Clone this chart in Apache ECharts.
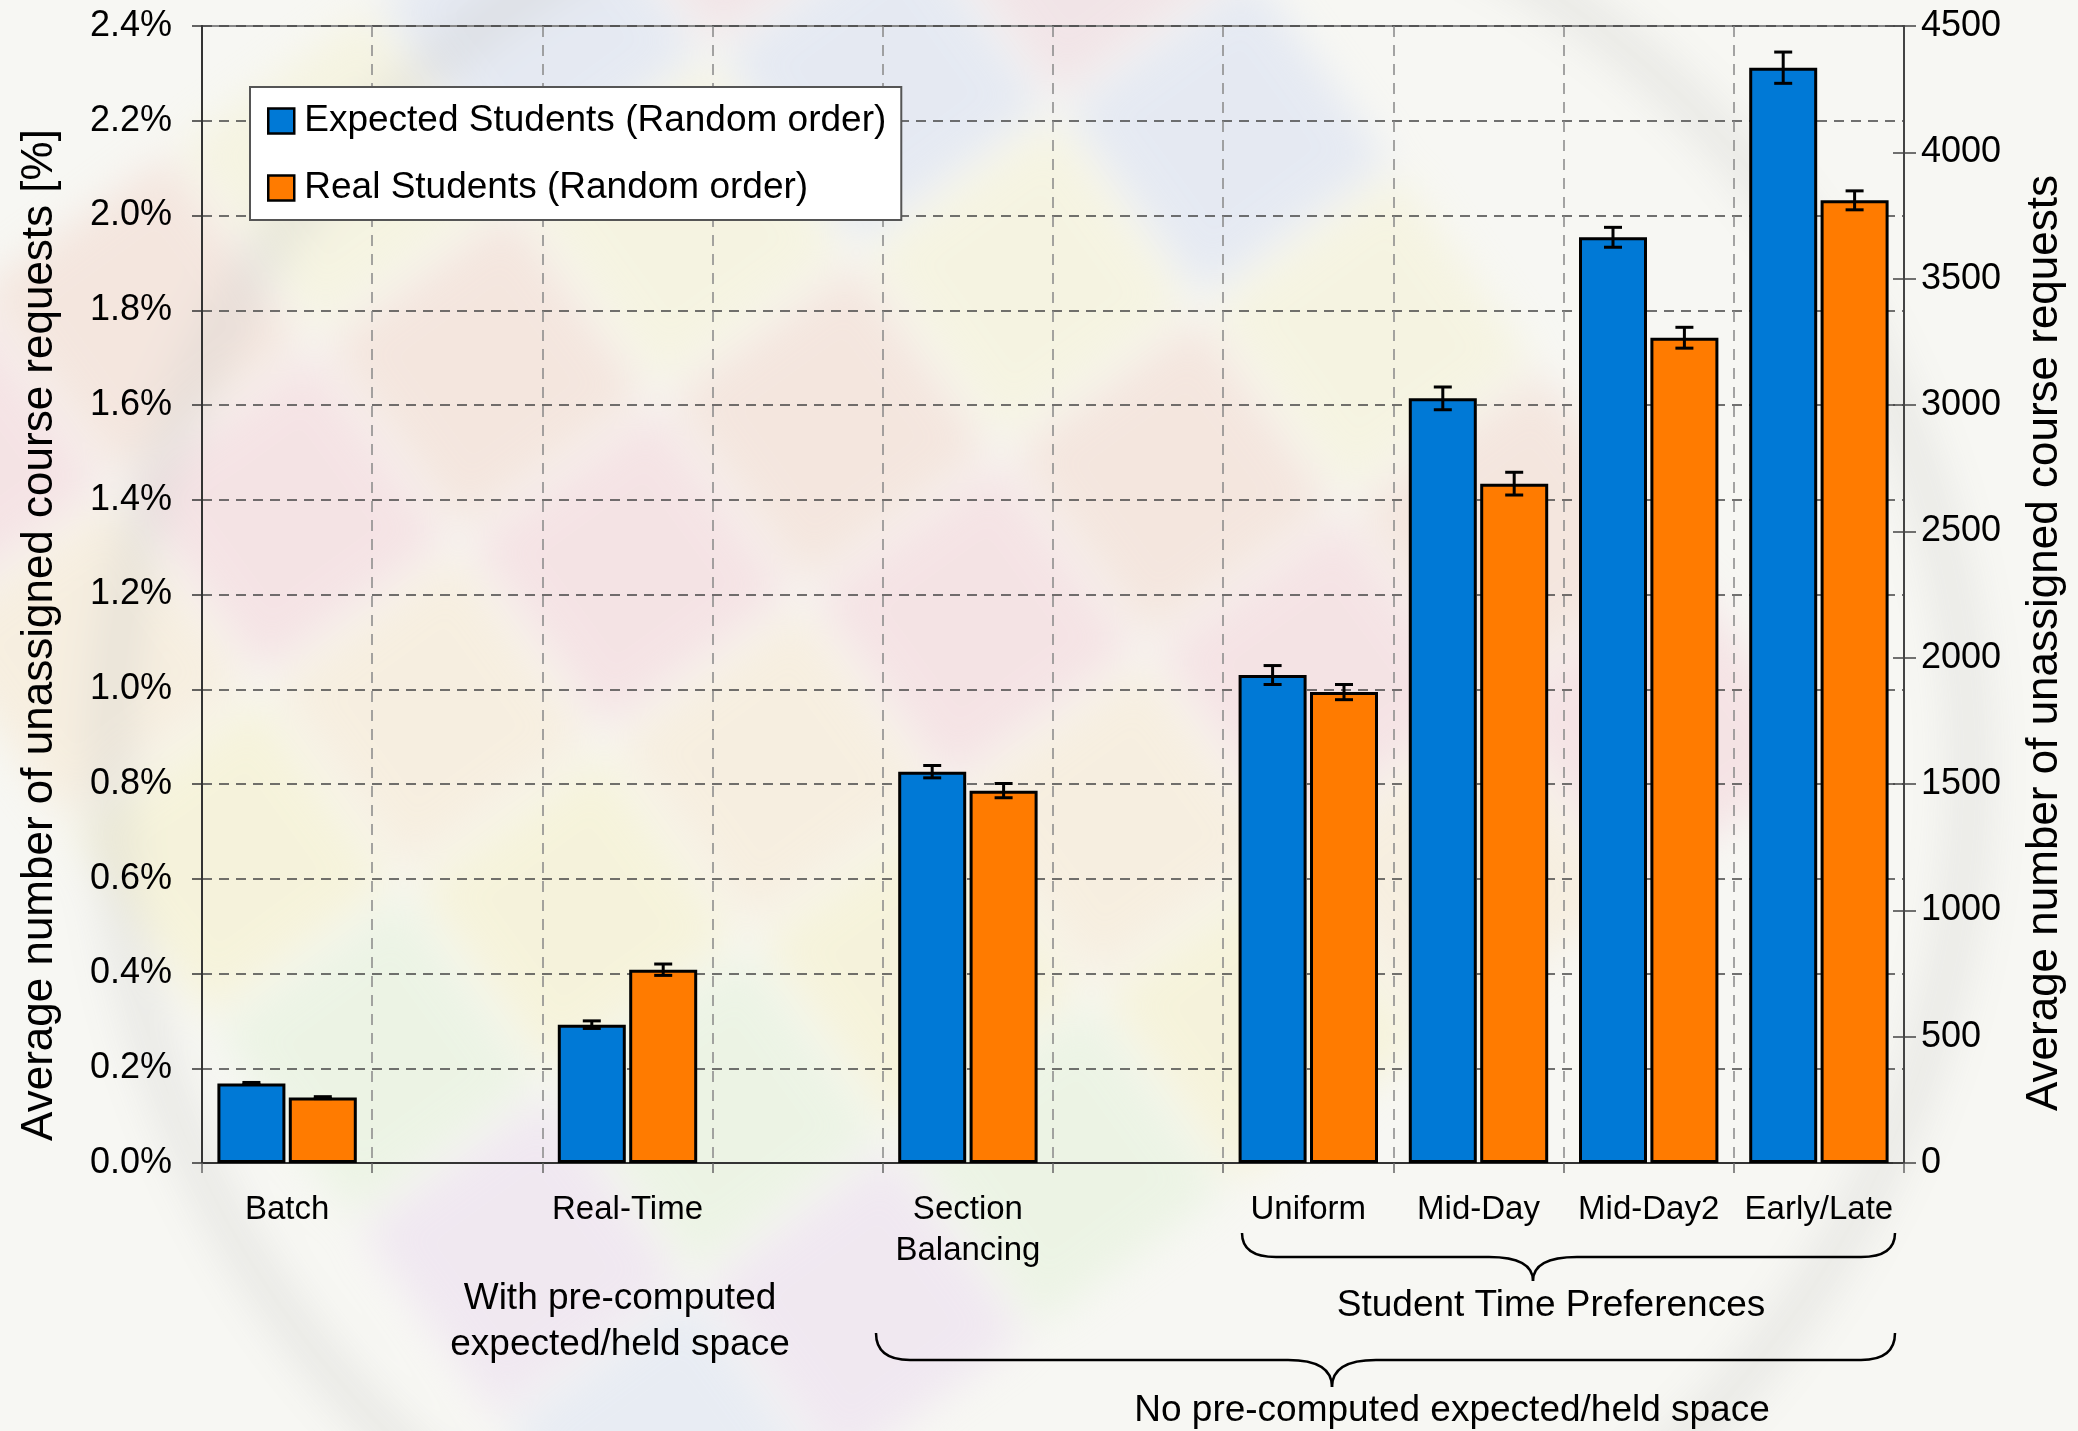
<!DOCTYPE html>
<html>
<head>
<meta charset="utf-8">
<script src="https://cdn.jsdelivr.net/npm/echarts@6/dist/echarts.min.js"></script>
<style>
  html, body { margin: 0; padding: 0; background: #f7f7f3; }
  #wrap { position: relative; width: 2078px; height: 1431px; overflow: hidden; }
  #bg { position: absolute; left: 0; top: 0; width: 2078px; height: 1431px; filter: blur(20px); opacity: 0.4; }
  #bg .tiles { position: absolute; left: 80px; top: -150px; width: 1500px; height: 1500px; transform: rotate(-36deg); }
  #bg .tiles div { position: absolute; }
  #bg .globe { position: absolute; left: 90px; top: -180px; width: 1900px; height: 1900px; border-radius: 50%;
               border: 40px solid rgba(140,140,140,0.35); box-sizing: border-box; }
  #chart { position: absolute; left: 0; top: 0; width: 2078px; height: 1431px; }
</style>
</head>
<body>
<div id="wrap">
  <div id="bg"><div class="tiles"></div><div class="globe"></div></div>
  <div id="chart"></div>
</div>
<script>
// ---- data ----
const categories = ['Batch', '', 'Real-Time', '', 'Section\nBalancing', '', 'Uniform', 'Mid-Day', 'Mid-Day2', 'Early/Late'];
const seriesNames = ['Expected Students (Random order)', 'Real Students (Random order)'];
const expectedPct = [0.168, null, 0.292, null, 0.826, null, 1.030, 1.614, 1.954, 2.312];
const realPct     = [0.138, null, 0.408, null, 0.786, null, 0.994, 1.434, 1.742, 2.032];
const expectedErr = [0.002, null, 0.008, null, 0.013, null, 0.020, 0.024, 0.021, 0.033];
const realErr     = [0.002, null, 0.012, null, 0.015, null, 0.016, 0.024, 0.022, 0.020];
const pctAxis   = [0, 2.4, 0.2];      // min, max, step (percent)
const countAxis = [0, 4500, 500];     // min, max, step (requests)
const leftTitle  = 'Average number of unassigned course requests [%]';
const rightTitle = 'Average number of unassigned course requests';
const noteWith   = 'With pre-computed\nexpected/held space';
const noteTime   = 'Student Time Preferences';
const noteNo     = 'No pre-computed expected/held space';

// ---- soft pastel backdrop ----
(function () {
  const pal = ['#f2c6d0', '#d6ebc4', '#f4edb8', '#cbd6f2', '#e6d2ee', '#f0cdc0', '#d3eddc', '#f6e2c4',
               '#e9c9d6', '#dcefd0', '#f3efc8', '#d2dcf4'];
  const host = document.querySelector('#bg .tiles');
  const size = 230, gap = 16;
  let k = 0;
  for (let r = 0; r < 6; r++) {
    for (let c = 0; c < 6; c++) {
      const d = document.createElement('div');
      d.style.left = (c * (size + gap)) + 'px';
      d.style.top = (r * (size + gap)) + 'px';
      d.style.width = size + 'px';
      d.style.height = size + 'px';
      d.style.background = pal[(k * 5 + r) % pal.length];
      host.appendChild(d);
      k++;
    }
  }
})();

// ---- chart ----
const FONT = "'Liberation Sans', Arial, Helvetica, sans-serif";
const BLUE = '#0079d6';
const ORANGE = '#ff7b00';
const BAR_W = 68;
const BAR_GAP = 0.05;
const BAR_SHIFT = (BAR_W + BAR_W * BAR_GAP) / 2;

function errorData(vals, errs) {
  const out = [];
  vals.forEach((v, i) => { if (v != null) out.push([i, v, errs[i]]); });
  return out;
}

function errorBars(sign) {
  return function (params, api) {
    const i = api.value(0), v = api.value(1), e = api.value(2);
    const hi = api.coord([i, v + e]);
    const lo = api.coord([i, v - e]);
    const x = hi[0] + sign * BAR_SHIFT;
    const cap = 9;
    const st = { stroke: '#000', lineWidth: 3 };
    return {
      type: 'group',
      children: [
        { type: 'line', shape: { x1: x, y1: hi[1], x2: x, y2: lo[1] }, style: st },
        { type: 'line', shape: { x1: x - cap, y1: hi[1], x2: x + cap, y2: hi[1] }, style: st },
        { type: 'line', shape: { x1: x - cap, y1: lo[1], x2: x + cap, y2: lo[1] }, style: st }
      ]
    };
  };
}

// curly brace opening downward, tip at xt
function brace(x0, x1, xt, yTop, yMid, yTip) {
  const r = 34, rt = 44;
  const st = { stroke: '#000', lineWidth: 2.5, fill: null };
  const q = (ax, ay, cx, cy, bx, by) => ({ type: 'bezierCurve', shape: { x1: ax, y1: ay, cpx1: cx, cpy1: cy, x2: bx, y2: by }, style: st });
  const l = (ax, ay, bx, by) => ({ type: 'line', shape: { x1: ax, y1: ay, x2: bx, y2: by }, style: st });
  return {
    type: 'group',
    children: [
      q(x0, yTop, x0, yMid, x0 + r, yMid),
      l(x0 + r, yMid, xt - rt, yMid),
      q(xt - rt, yMid, xt, yMid, xt, yTip),
      q(xt, yTip, xt, yMid, xt + rt, yMid),
      l(xt + rt, yMid, x1 - r, yMid),
      q(x1 - r, yMid, x1, yMid, x1, yTop)
    ]
  };
}

const chart = echarts.init(document.getElementById('chart'), null, { renderer: 'canvas' });

const axisNameStyle = { fontSize: 44, lineHeight: 50, color: '#000', fontFamily: FONT };

const option = {
  backgroundColor: 'transparent',
  animation: false,
  textStyle: { fontFamily: FONT },
  grid: { left: 202, right: 171, top: 26, bottom: 268, show: true, borderColor: '#888', borderWidth: 2, backgroundColor: 'transparent' },
  legend: {
    data: seriesNames,
    orient: 'vertical',
    left: 250, top: 87,
    backgroundColor: '#ffffff',
    borderColor: '#555', borderWidth: 2,
    padding: [13, 15, 11, 17],
    itemGap: 25, itemWidth: 26, itemHeight: 25,
    icon: 'rect',
    itemStyle: { borderColor: '#000', borderWidth: 2.5 },
    textStyle: { fontSize: 37, lineHeight: 42, color: '#000', fontFamily: FONT, padding: [0, 0, 0, 5] }
  },
  xAxis: {
    type: 'category',
    data: categories,
    boundaryGap: true,
    axisLine: { lineStyle: { color: '#333', width: 2 } },
    axisTick: { show: true, interval: 0, length: 10, lineStyle: { color: '#666', width: 1.5 } },
    splitLine: { show: true, interval: 0, lineStyle: { color: '#888', width: 1.5, type: [11, 8] } },
    axisLabel: { interval: 0, fontSize: 33, lineHeight: 41, margin: 26, color: '#000', fontFamily: FONT }
  },
  yAxis: [
    {
      type: 'value', position: 'left',
      min: pctAxis[0], max: pctAxis[1], interval: pctAxis[2],
      axisLine: { show: true, lineStyle: { color: '#333', width: 2 } },
      axisTick: { show: true, length: 10, lineStyle: { color: '#333', width: 1.5 } },
      axisLabel: { formatter: v => v.toFixed(1) + '%', fontSize: 36, margin: 30, color: '#000', fontFamily: FONT },
      splitLine: { show: true, lineStyle: { color: '#444', width: 1.5, type: [10, 7] } },
      name: leftTitle, nameLocation: 'middle', nameRotate: 90, nameGap: 137,
      nameTextStyle: Object.assign({ padding: [0, 81, 0, 0] }, axisNameStyle)
    },
    {
      type: 'value', position: 'right',
      min: countAxis[0], max: countAxis[1], interval: countAxis[2],
      axisLine: { show: true, lineStyle: { color: '#444', width: 2 } },
      axisTick: { show: true, length: 12, lineStyle: { color: '#444', width: 1.5 } },
      axisLabel: { formatter: v => String(v), fontSize: 36, margin: 17, color: '#000', fontFamily: FONT },
      splitLine: { show: false },
      name: rightTitle, nameLocation: 'middle', nameRotate: 90, nameGap: 116,
      nameTextStyle: Object.assign({ padding: [0, 97, 0, 0] }, axisNameStyle)
    },
    {
      type: 'value', position: 'right',
      min: countAxis[0], max: countAxis[1], interval: countAxis[2],
      axisLine: { show: false },
      axisTick: { show: true, inside: true, length: 11, lineStyle: { color: '#444', width: 1.5 } },
      axisLabel: { show: false },
      splitLine: { show: false }
    }
  ],
  series: [
    {
      name: seriesNames[0], type: 'bar', data: expectedPct,
      barWidth: BAR_W, barGap: (BAR_GAP * 100) + '%',
      itemStyle: { color: BLUE, borderColor: '#000', borderWidth: 3 },
      z: 3
    },
    {
      name: seriesNames[1], type: 'bar', data: realPct,
      barWidth: BAR_W, barGap: (BAR_GAP * 100) + '%',
      itemStyle: { color: ORANGE, borderColor: '#000', borderWidth: 3 },
      z: 3
    },
    { type: 'custom', name: 'err-expected', data: errorData(expectedPct, expectedErr), renderItem: errorBars(-1), z: 6, silent: true },
    { type: 'custom', name: 'err-real', data: errorData(realPct, realErr), renderItem: errorBars(1), z: 6, silent: true }
  ],
  graphic: [
    { type: 'text', x: 620, y: 1322, style: { text: noteWith, font: '37px ' + FONT, fill: '#000', align: 'center', verticalAlign: 'middle', lineHeight: 46 } },
    brace(1242, 1895, 1533, 1233, 1257, 1281),
    { type: 'text', x: 1551, y: 1306, style: { text: noteTime, font: '37px ' + FONT, fill: '#000', align: 'center', verticalAlign: 'middle' } },
    brace(876, 1895, 1332, 1333, 1360, 1387),
    { type: 'text', x: 1452, y: 1411, style: { text: noteNo, font: '37px ' + FONT, fill: '#000', align: 'center', verticalAlign: 'middle' } }
  ]
};

chart.setOption(option);
</script>
</body>
</html>
